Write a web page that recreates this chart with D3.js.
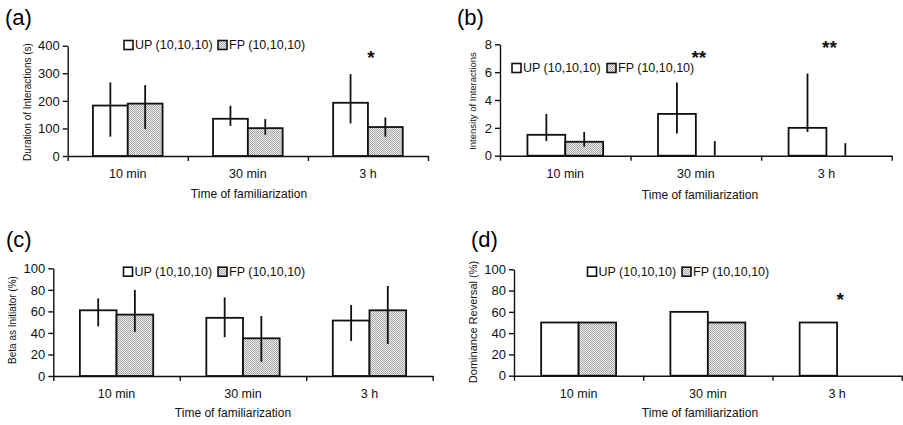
<!DOCTYPE html>
<html>
<head>
<meta charset="utf-8">
<script src="https://cdn.jsdelivr.net/npm/d3@7"></script>
<style>
  body { margin: 0; background: #fff; }
  svg { display: block; font-family: "Liberation Sans", Arial, sans-serif; }
</style>
</head>
<body>
<svg id="chart" width="903" height="425"></svg>
<script>
// categories and series
const categories = ['10 min', '30 min', '3 h'];
const groups = ['UP', 'FP'];
const legendLabels = ['UP (10,10,10)', 'FP (10,10,10)'];

// (a) duration of interactions
const durationUP = [183, 135, 193];
const durationUPHi = [267, 182, 297];
const durationUPLo = [70, 109, 118];
const durationFP = [190, 101, 105];
const durationFPHi = [257, 134, 140];
const durationFPLo = [98, 77, 70];
const durationStars = ['', '', '*'];
const durationStarLevel = [0, 0, 373];

// (b) intensity of interactions
const intensityUP = [1.5, 3.0, 2.0];
const intensityUPHi = [3.0, 5.25, 5.9];
const intensityUPLo = [1.05, 1.6, 1.7];
const intensityFP = [1.0, 0, 0];
const intensityFPHi = [1.7, 1.05, 0.9];
const intensityFPLo = [0.65, 0, 0];
const intensityStars = ['', '**', '**'];
const intensityStarLevel = [0, 7.4, 8.1];

// (c) beta as initiator
const initiatorUP = [61, 54, 51.5];
const initiatorUPHi = [72, 73, 66];
const initiatorUPLo = [46, 36, 32.5];
const initiatorFP = [57, 35, 61];
const initiatorFPHi = [80, 55.7, 83.6];
const initiatorFPLo = [41, 13.3, 29.7];

// (d) dominance reversal
const reversalUP = [50, 60, 50];
const reversalFP = [50, 50, 0];
const reversalStars = ['', '', '*'];
const reversalStarLevel = [0, 0, 76];

// tick values
const durationTicks = [0, 100, 200, 300, 400];
const intensityTicks = [0, 2, 4, 6, 8];
const percentTicks = [0, 20, 40, 60, 80, 100];

const xTitle = 'Time of familiarization';

const svg = d3.select('#chart');

// fine checker pattern for FP bars
const defs = svg.append('defs');
const pat = defs.append('pattern')
    .attr('id', 'dots')
    .attr('width', 2).attr('height', 2)
    .attr('patternUnits', 'userSpaceOnUse');
pat.append('rect').attr('width', 2).attr('height', 2).attr('fill', '#ececec');
pat.append('rect').attr('width', 1).attr('height', 1).attr('fill', '#a8a8a8');
pat.append('rect').attr('x', 1).attr('y', 1).attr('width', 1).attr('height', 1).attr('fill', '#a8a8a8');

function rows(vals, hi, lo) {
    return vals.map((v, i) => ({ v: v, hi: hi ? hi[i] : null, lo: lo ? lo[i] : null }));
}

const panels = [
    {
        tag: '(a)', tagX: 5, tagY: 25,
        left: 67.7, right: 428, top: 45.7, bottom: 156,
        max: 400, ticks: durationTicks,
        label: 'Duration of Interactions (s)', labelX: 27, labelY: 102, labelSize: 10,
        titleX: 249, titleY: 198,
        legendX: 124, legendY: 45, legendGap: 94,
        series: [rows(durationUP, durationUPHi, durationUPLo), rows(durationFP, durationFPHi, durationFPLo)],
        stars: durationStars, starLevel: durationStarLevel
    },
    {
        tag: '(b)', tagX: 457, tagY: 25,
        left: 500, right: 891.7, top: 44.3, bottom: 155.7,
        max: 8, ticks: intensityTicks,
        label: 'Intensity of Interactions', labelX: 473, labelY: 101, labelSize: 9.5,
        titleX: 700, titleY: 199,
        legendX: 512, legendY: 68, legendGap: 95,
        series: [rows(intensityUP, intensityUPHi, intensityUPLo), rows(intensityFP, intensityFPHi, intensityFPLo)],
        stars: intensityStars, starLevel: intensityStarLevel
    },
    {
        tag: '(c)', tagX: 6, tagY: 247,
        left: 53.3, right: 432.7, top: 268.3, bottom: 376,
        max: 100, ticks: percentTicks,
        label: 'Beta as Initiator (%)', labelX: 12, labelY: 320, labelSize: 10,
        titleX: 233, titleY: 417,
        legendX: 123.5, legendY: 271.7, legendGap: 94.5,
        series: [rows(initiatorUP, initiatorUPHi, initiatorUPLo), rows(initiatorFP, initiatorFPHi, initiatorFPLo)],
        stars: ['', '', ''], starLevel: [0, 0, 0]
    },
    {
        tag: '(d)', tagX: 471, tagY: 247,
        left: 514, right: 901.7, top: 269.3, bottom: 375.7,
        max: 100, ticks: percentTicks,
        label: 'Dominance Reversal (%)', labelX: 473, labelY: 322, labelSize: 11,
        titleX: 700, titleY: 417,
        legendX: 587.5, legendY: 271.7, legendGap: 94.5,
        series: [rows(reversalUP), rows(reversalFP)],
        stars: reversalStars, starLevel: reversalStarLevel
    }
];

panels.forEach(function (p) {
    const g = svg.append('g');

    const x0 = d3.scaleBand().domain(categories).range([p.left, p.right]).padding(0);
    const x1 = d3.scaleBand().domain(groups).range([0, x0.bandwidth()])
        .paddingInner(0).paddingOuter(0.725);
    const y = d3.scaleLinear().domain([0, p.max]).range([p.bottom, p.top]);
    const xb = d3.scaleLinear().domain([0, categories.length]).range([p.left, p.right]);

    // panel tag
    g.append('text')
        .attr('x', p.tagX).attr('y', p.tagY)
        .style('font-size', '22px')
        .text(p.tag);

    // bars
    groups.forEach(function (grp, gi) {
        const data = p.series[gi];
        g.selectAll('.bar-' + grp)
            .data(data.filter(d => d.v > 0))
            .enter().append('rect')
            .attr('x', function (d) { return x0(categories[data.indexOf(d)]) + x1(grp); })
            .attr('y', function (d) { return y(d.v); })
            .attr('width', x1.bandwidth())
            .attr('height', function (d) { return y(0) - y(d.v); })
            .style('fill', gi === 0 ? '#fff' : 'url(#dots)')
            .style('stroke', '#111')
            .style('stroke-width', 1.8);

        // error bars
        data.forEach(function (d, i) {
            if (d.hi == null) return;
            const cx = x0(categories[i]) + x1(grp) + x1.bandwidth() / 2;
            g.append('line')
                .attr('x1', cx).attr('x2', cx)
                .attr('y1', y(d.hi)).attr('y2', y(d.lo))
                .style('stroke', '#111')
                .style('stroke-width', 1.8);
        });
    });

    // y axis
    const yAxis = g.append('g')
        .attr('transform', 'translate(' + p.left + ',0)')
        .call(d3.axisLeft(y).tickValues(p.ticks).tickSize(5).tickPadding(3).tickSizeOuter(0));
    yAxis.selectAll('text').style('font-size', '13px').style('font-family', 'Liberation Sans, Arial, sans-serif').attr('fill', '#111');
    yAxis.selectAll('line, path').style('stroke', '#111').style('stroke-width', 1.4);

    // x axis: boundary ticks + category labels
    const xAxis = g.append('g')
        .attr('transform', 'translate(0,' + p.bottom + ')')
        .call(d3.axisBottom(xb).tickValues([0, 1, 2, 3]).tickSize(5).tickFormat('').tickSizeOuter(0));
    xAxis.selectAll('line, path').style('stroke', '#111').style('stroke-width', 1.4);

    const xLabels = g.append('g')
        .attr('transform', 'translate(0,' + p.bottom + ')')
        .call(d3.axisBottom(x0).tickSize(0).tickPadding(13));
    xLabels.select('.domain').remove();
    xLabels.selectAll('text').style('font-size', '12.5px').style('font-family', 'Liberation Sans, Arial, sans-serif').attr('fill', '#111');

    // axis titles
    g.append('text')
        .attr('text-anchor', 'middle')
        .attr('x', p.titleX).attr('y', p.titleY)
        .style('font-size', '12px')
        .style('fill', '#111')
        .text(xTitle);

    g.append('text')
        .attr('text-anchor', 'middle')
        .attr('transform', 'translate(' + p.labelX + ',' + p.labelY + ')rotate(-90)')
        .attr('dy', '0.35em')
        .style('font-size', p.labelSize + 'px')
        .style('fill', '#111')
        .text(p.label);

    // legend
    legendLabels.forEach(function (lab, i) {
        const lx = p.legendX + i * p.legendGap;
        g.append('rect')
            .attr('x', lx).attr('y', p.legendY - 4.5)
            .attr('width', 9).attr('height', 9)
            .style('fill', i === 0 ? '#fff' : 'url(#dots)')
            .style('stroke', '#111')
            .style('stroke-width', 1.6);
        g.append('text')
            .attr('x', lx + 11).attr('y', p.legendY)
            .attr('dy', '0.35em')
            .style('font-size', '12.5px')
            .style('fill', '#111')
            .text(lab);
    });

    // significance markers
    p.stars.forEach(function (s, i) {
        if (!s) return;
        g.append('text')
            .attr('text-anchor', 'middle')
            .attr('x', x0(categories[i]) + x0.bandwidth() / 2 + 3)
            .attr('y', y(p.starLevel[i]) + 11)
            .style('font-size', '19px')
            .style('font-weight', 'bold')
            .style('fill', '#111')
            .text(s);
    });
});
</script>
</body>
</html>
